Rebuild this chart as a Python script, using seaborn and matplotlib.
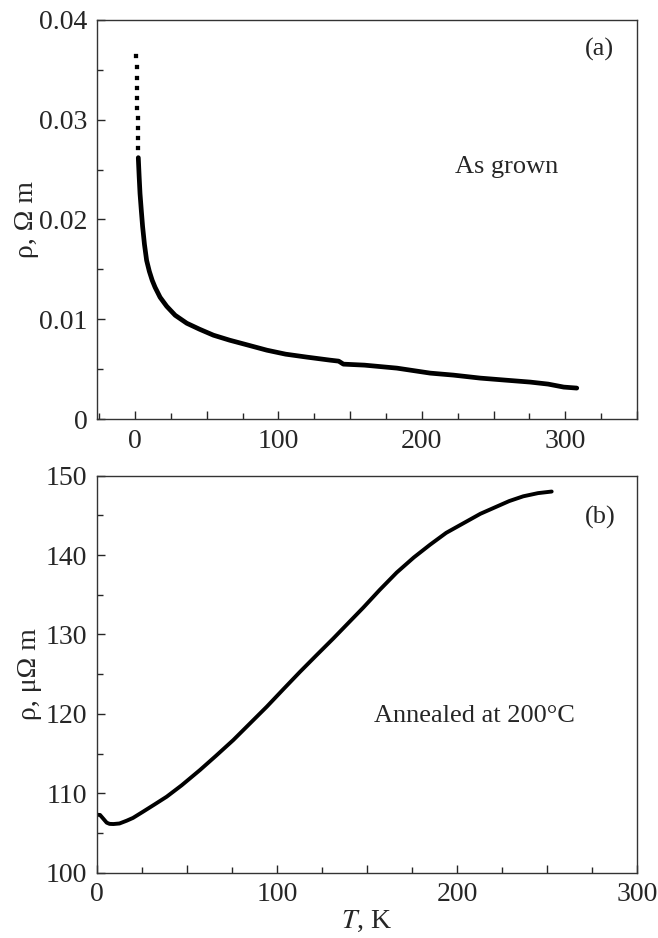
import numpy as np
import pandas as pd
import seaborn as sns
import matplotlib.pyplot as plt
from matplotlib.ticker import MultipleLocator, FuncFormatter

# ---- panel (a): as grown, rho in Ohm m ----
# sparse low-T points (dotted part of the curve)
T_a_dots = [0.9, 1.05, 1.2, 1.35, 1.5, 1.65, 1.8, 1.95, 2.1, 2.25]
rho_a_dots = [0.0364, 0.0353, 0.0342, 0.0332, 0.0322, 0.0312, 0.0302, 0.0292, 0.0282, 0.0272]
T_a = [2.3, 2.9, 3.5, 4.4, 5.3, 6.6, 8.1, 10.0, 12.0, 14.0, 17.5, 22.1, 28.0, 36.1, 45.0,
       54.7, 66.0, 79.0, 91.9, 105.0, 120.0, 136.0, 142.0, 145.3, 160.0, 182.6, 205.8,
       222.0, 240.7, 258.0, 275.6, 288.0, 298.9, 308.0]
rho_a = [0.0262, 0.0243, 0.0226, 0.0209, 0.0193, 0.0175, 0.0159, 0.0148, 0.0139, 0.0132,
         0.0122, 0.0113, 0.0104, 0.0096, 0.0090, 0.0084, 0.0079, 0.0074, 0.0069, 0.0065,
         0.0062, 0.0059, 0.0058, 0.0055, 0.0054, 0.0051, 0.0046, 0.0044, 0.0041, 0.0039,
         0.0037, 0.0035, 0.0032, 0.0031]

# ---- panel (b): annealed at 200 C, rho in micro Ohm m ----
T_b = [0.0, 1.7, 3.5, 5.4, 7.0, 9.1, 12.5, 16.5, 20.0, 25.7, 32.0, 38.7, 47.0, 57.2, 66.0,
       75.7, 85.0, 94.3, 103.5, 112.8, 122.0, 131.3, 139.0, 148.0, 157.0, 166.5, 176.0,
       185.0, 194.0, 203.5, 213.0, 222.0, 229.0, 236.8, 245.0, 252.6]
rho_b = [107.3, 107.27, 106.8, 106.3, 106.15, 106.13, 106.2, 106.55, 106.9, 107.7, 108.6,
         109.57, 111.0, 112.93, 114.7, 116.7, 118.8, 120.9, 123.1, 125.3, 127.4, 129.5,
         131.3, 133.4, 135.6, 137.8, 139.7, 141.3, 142.8, 144.0, 145.2, 146.1, 146.8,
         147.4, 147.8, 148.0]

sns.set_style("ticks")
plt.rcParams['font.family'] = ['Liberation Serif', 'DejaVu Serif']
plt.rcParams['mathtext.fontset'] = 'stix'
FS = 20

fig = plt.figure(figsize=(6.58, 9.38), dpi=100)
ax1 = fig.add_axes([0.1474, 0.5533, 0.8207, 0.4254])
ax2 = fig.add_axes([0.1474, 0.0696, 0.8207, 0.4233])

df_a = pd.DataFrame({"T": T_a, "rho": rho_a})
df_a_dots = pd.DataFrame({"T": T_a_dots, "rho": rho_a_dots})
df_b = pd.DataFrame({"T": T_b, "rho": rho_b})

sns.lineplot(data=df_a, x="T", y="rho", ax=ax1, color="black", lw=3.4, sort=False)
sns.scatterplot(data=df_a_dots, x="T", y="rho", ax=ax1, color="black", s=6, marker="s",
                edgecolor=None)
sns.lineplot(data=df_b, x="T", y="rho", ax=ax2, color="black", lw=2.8, sort=False)

label_100 = FuncFormatter(lambda v, p: f"{v:.0f}" if abs(v % 100) < 1e-6 else "")

# top axes
ax1.set_xlim(-26.5, 350)
ax1.set_ylim(0, 0.04)
ax1.xaxis.set_major_locator(MultipleLocator(50))
ax1.xaxis.set_major_formatter(label_100)
ax1.xaxis.set_minor_locator(MultipleLocator(25))
ax1.yaxis.set_major_locator(MultipleLocator(0.01))
ax1.yaxis.set_major_formatter(FuncFormatter(lambda v, p: "0" if v == 0 else f"{v:.2f}"))
ax1.yaxis.set_minor_locator(MultipleLocator(0.005))
ax1.set_xlabel("")
ax1.set_ylabel("ρ, Ω m", fontsize=FS, labelpad=0)
ax1.text(324, 0.0370, "(a)", fontsize=FS - 1, ha="center", va="center")
ax1.text(259, 0.0253, "As grown", fontsize=FS - 1, ha="center", va="center")

# bottom axes
ax2.set_xlim(0, 300)
ax2.set_ylim(100, 150)
ax2.xaxis.set_major_locator(MultipleLocator(50))
ax2.xaxis.set_major_formatter(label_100)
ax2.xaxis.set_minor_locator(MultipleLocator(25))
ax2.yaxis.set_major_locator(MultipleLocator(10))
ax2.yaxis.set_minor_locator(MultipleLocator(5))
ax2.set_xlabel("$T$, K", fontsize=FS, labelpad=1)
ax2.set_ylabel("ρ, μΩ m", fontsize=FS, labelpad=3)
ax2.text(279.5, 144.8, "(b)", fontsize=FS - 1, ha="center", va="center")
ax2.text(209.5, 119.7, "Annealed at 200°C", fontsize=FS - 1, ha="center", va="center")

for ax in (ax1, ax2):
    for s in ax.spines.values():
        s.set_visible(True)
        s.set_linewidth(1.0)
        s.set_color("#333333")
    ax.tick_params(which="major", direction="in", length=6, width=1.0, labelsize=FS, pad=7,
                   top=False, right=False)
    ax.tick_params(which="minor", direction="in", length=4, width=1.0, top=False, right=False)

fig.savefig("out.png", dpi=100)
